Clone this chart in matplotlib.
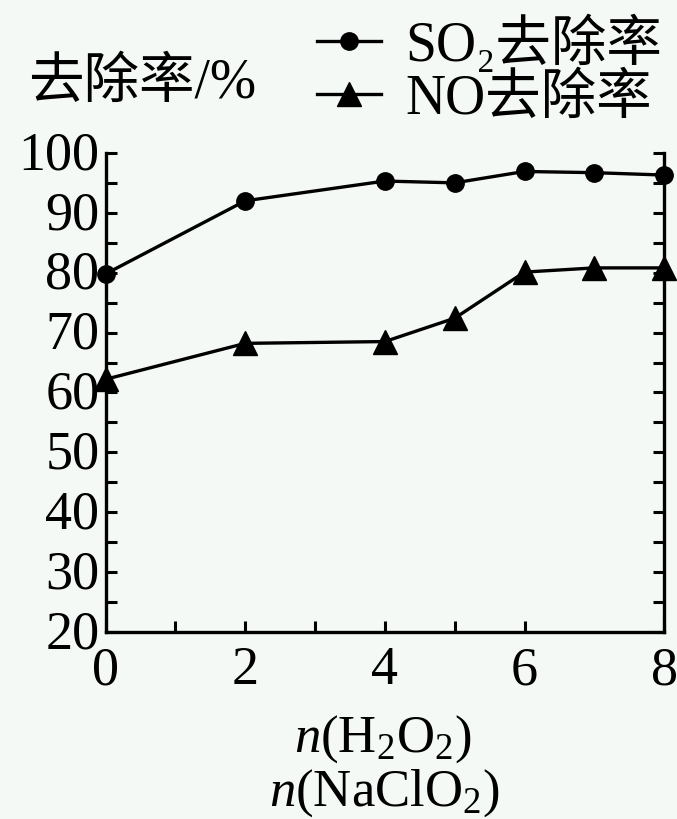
import matplotlib.pyplot as plt
import matplotlib.transforms as mtransforms
from matplotlib.lines import Line2D

plt.rcParams['font.family'] = ['Liberation Serif', 'Noto Sans CJK SC', 'DejaVu Serif']
plt.rcParams['mathtext.fontset'] = 'custom'
plt.rcParams['mathtext.rm'] = 'Liberation Serif'
plt.rcParams['mathtext.it'] = 'Liberation Serif:italic'

# ratio n(H2O2)/n(NaClO2)
ratio = [0, 2, 4, 5, 6, 7, 8]
so2_removal = [79.8, 92.0, 95.3, 95.0, 96.9, 96.7, 96.3]
no_removal = [62.2, 68.2, 68.5, 72.4, 80.1, 80.8, 80.8]

y_major = [20, 30, 40, 50, 60, 70, 80, 90, 100]
y_minor = [25, 35, 45, 55, 65, 75, 85, 95]
x_major = [0, 2, 4, 6, 8]
x_minor = [1, 3, 5]

bg = '#f4f9f5'
fig = plt.figure(figsize=(6.77, 8.19), dpi=100, facecolor=bg)
ax = fig.add_axes([0.156, 0.2283, 0.825, 0.585])
ax.set_facecolor(bg)

ax.plot(ratio, so2_removal, '-', color='black', lw=2.4, marker='o', ms=12.5,
        clip_on=False, zorder=5)
ax.plot(ratio, no_removal, '-', color='black', lw=2.4, marker='^', ms=17,
        clip_on=False, zorder=5)

ax.set_xlim(0, 8)
ax.set_ylim(20, 100)
ax.set_xticks(x_major)
ax.set_xticks(x_minor, minor=True)
ax.set_yticks(y_major)
ax.set_yticks(y_minor, minor=True)

ax.spines['top'].set_visible(False)
for s in ['left', 'right', 'bottom']:
    ax.spines[s].set_linewidth(2.4)

ax.tick_params(axis='both', which='both', direction='in', width=2.2,
               length=8, labelsize=39)
ax.tick_params(axis='y', which='both', right=True, pad=4.5)
ax.tick_params(axis='x', which='both', top=False, pad=10)
# nudge y labels up a little, as in the original
shift = mtransforms.ScaledTranslation(0, 3 / 100, fig.dpi_scale_trans)
for lab in ax.get_yticklabels():
    lab.set_transform(lab.get_transform() + shift)

fig.text(0.041, 0.897, '去除率/%', fontsize=40, ha='left', va='center')

handles = [
    Line2D([], [], color='black', lw=2.4, marker='o', ms=12.5),
    Line2D([], [], color='black', lw=2.4, marker='^', ms=17),
]
fig.legend(handles, ['SO₂去除率', 'NO去除率'], loc='upper right',
           bbox_to_anchor=(1.036, 1.03), frameon=False, fontsize=40,
           handlelength=1.15, handletextpad=0.45, labelspacing=0.02,
           borderpad=0.2)

fig.text(0.565, 0.097, r'$\mathit{n}$(H$_2$O$_2$)', fontsize=38,
         ha='center', va='center')
fig.text(0.568, 0.032, r'$\mathit{n}$(NaClO$_2$)', fontsize=38,
         ha='center', va='center')

fig.savefig('out.png', dpi=100, facecolor=bg)
